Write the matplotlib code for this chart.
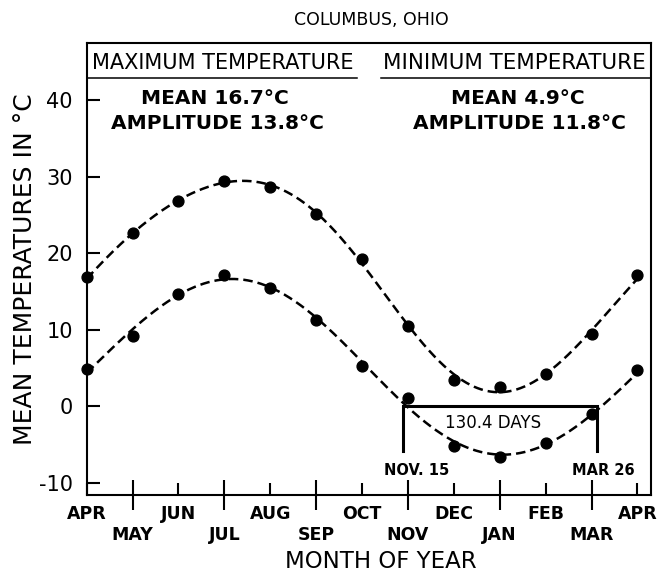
import numpy as np
import matplotlib
matplotlib.use('Agg')
import matplotlib.pyplot as plt

# ---------------- data ----------------
months_top = ['APR', 'JUN', 'AUG', 'OCT', 'DEC', 'FEB', 'APR']
months_bottom = ['MAY', 'JUL', 'SEP', 'NOV', 'JAN', 'MAR']
month_index = list(range(13))            # APR ... APR
max_temp = [16.9, 22.7, 26.8, 29.4, 28.7, 25.1, 19.2, 10.5, 3.5, 2.6, 4.3, 9.4, 17.1]
min_temp = [4.9, 9.2, 14.7, 17.1, 15.5, 11.3, 5.3, 1.1, -5.1, -6.6, -4.8, -1.0, 4.7]
max_mean, max_amp = 16.7, 13.8
min_mean, min_amp = 4.9, 11.8
frost_start, frost_end = 6.89, 11.12      # NOV. 15 and MAR 26 on month scale
frost_days = 130.4
y_ticks = [-10, 0, 10, 20, 30, 40]


def harmonic_fit(x, y, xs, n=2):
    """Least-squares periodic (12-month) fit used for the dashed curves."""
    x = np.asarray(x, float)[:-1]
    y = np.asarray(y, float)[:-1]
    def basis(t):
        cols = [np.ones_like(t)]
        for k in range(1, n + 1):
            w = 2 * np.pi * k * t / 12
            cols += [np.cos(w), np.sin(w)]
        return np.column_stack(cols)
    coef, *_ = np.linalg.lstsq(basis(x), y, rcond=None)
    return basis(xs) @ coef


# ---------------- figure ----------------
W, H = 668, 578
fig = plt.figure(figsize=(W / 100, H / 100), dpi=100)
ax = fig.add_axes([86.7 / W, 1 - 495 / H, (650.7 - 86.7) / W, (495 - 43.3) / H])
ax.set_xlim(0, 12.29)
ax.set_ylim(-11.55, 47.4)

for s in ax.spines.values():
    s.set_linewidth(1.5)

# fitted curves
xs = np.linspace(0, 12, 500)
dash = (0, (3.8, 2.0))
ax.plot(xs, harmonic_fit(month_index, max_temp, xs), ls=dash, lw=1.8, color='k')
ax.plot(xs, harmonic_fit(month_index, min_temp, xs), ls=dash, lw=1.8, color='k')
ax.plot(month_index, max_temp, 'o', ms=7.8, color='k', clip_on=False, zorder=5)
ax.plot(month_index, min_temp, 'o', ms=7.8, color='k', clip_on=False, zorder=5)

# frost-free bracket
ax.plot([frost_start, frost_start, frost_end, frost_end], [-5.8, 0, 0, -5.8],
        color='k', lw=2.2, solid_joinstyle='miter')
ax.text((frost_start + frost_end) / 2 - 0.15, -2.15, f'{frost_days} DAYS',
        ha='center', va='center', fontsize=12)
ax.text(7.19, -8.4, 'NOV. 15', ha='center', va='center', fontsize=10.5, fontweight='bold')
ax.text(11.25, -8.4, 'MAR 26', ha='center', va='center', fontsize=10.5, fontweight='bold')

# header
ax.text(0.11, 44.0, 'MAXIMUM TEMPERATURE', ha='left', va='baseline', fontsize=15)
ax.text(6.45, 44.0, 'MINIMUM TEMPERATURE', ha='left', va='baseline', fontsize=15.4)
ax.plot([0, 5.89], [42.9, 42.9], color='k', lw=1.1)
ax.plot([6.41, 12.29], [42.9, 42.9], color='k', lw=1.1)
ax.text(2.79, 40.2, f'MEAN {max_mean}°C', ha='center', va='center', fontsize=14.5, fontweight='bold')
ax.text(2.84, 36.9, f'AMPLITUDE {max_amp}°C', ha='center', va='center', fontsize=14.5, fontweight='bold')
ax.text(9.4, 40.2, f'MEAN {min_mean}°C', ha='center', va='center', fontsize=14.5, fontweight='bold')
ax.text(9.44, 36.9, f'AMPLITUDE {min_amp}°C', ha='center', va='center', fontsize=14.5, fontweight='bold')

# y axis
ax.set_yticks(y_ticks)
ax.set_yticklabels([str(v) for v in y_ticks])
ax.tick_params(axis='y', direction='in', length=9, width=1.5, labelsize=15, pad=10)

# x axis: two rows of month labels
ax.set_xticks(list(range(0, 13, 2)))
ax.set_xticklabels(months_top, fontweight='bold', fontsize=12.5)
ax.set_xticks(list(range(1, 12, 2)), minor=True)
ax.set_xticklabels(months_bottom, minor=True, fontweight='bold', fontsize=12.5)
ax.tick_params(axis='x', which='major', direction='in', length=9, width=1.5, pad=7)
ax.tick_params(axis='x', which='minor', direction='inout', length=21, width=1.5, pad=12)

# titles
fig.text(371 / W, 1 - 20 / H, 'COLUMBUS, OHIO', ha='center', va='center', fontsize=12.5)
fig.text(381 / W, 1 - 562 / H, 'MONTH OF YEAR', ha='center', va='center', fontsize=16.5)
fig.text(25 / W, 1 - 269 / H, 'MEAN TEMPERATURES IN °C', ha='center', va='center',
         rotation=90, fontsize=18)

fig.savefig('out.png', dpi=100)
